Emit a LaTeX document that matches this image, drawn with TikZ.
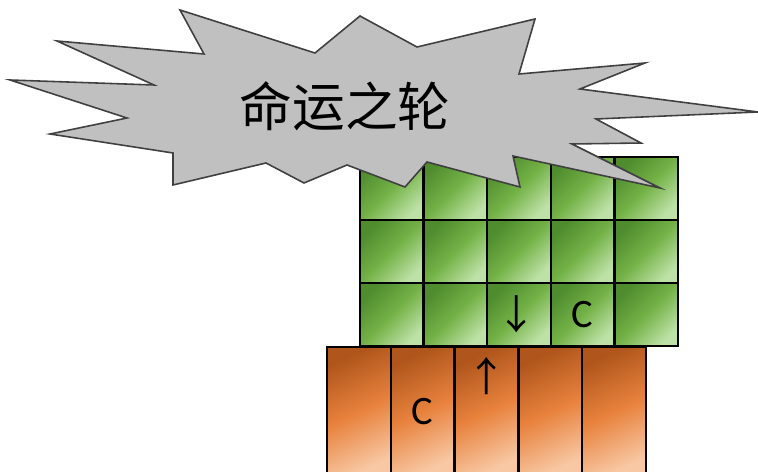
\documentclass[tikz,border=0pt]{standalone}
\usepackage{xcolor}
\usepackage{fontspec}
\setsansfont{Carlito}
\newfontfamily\cjkfont{Noto Sans CJK SC}
\newfontfamily\arrowfont{Noto Sans CJK SC}
\usepackage{tikz}
\usetikzlibrary{positioning,calc}
\definecolor{gDark}{HTML}{4F8C2E}
\definecolor{gMid}{HTML}{74B247}
\definecolor{gLight}{HTML}{BDE1A6}
\definecolor{oDark}{HTML}{B0561C}
\definecolor{oMid}{HTML}{E8823D}
\definecolor{oLight}{HTML}{F8C8A4}
\definecolor{burstGray}{HTML}{C0C0C0}
\definecolor{burstLine}{HTML}{404040}
\tikzstyle{tsCell} = [
    rectangle,
    draw=black,
    line width=1.3pt,
    inner sep=0pt
]
\tikzstyle{tsGreenCell} = [
    tsCell,
    minimum width=1.272cm,
    minimum height=1.26cm,
    top color=gDark,
    bottom color=gLight,
    middle color=gMid,
    shading angle=45
]
\tikzstyle{tsOrangeCell} = [
    tsCell,
    minimum width=1.276cm,
    minimum height=2.6cm,
    top color=oDark,
    bottom color=oLight,
    middle color=oMid,
    shading angle=25
]
\tikzstyle{tsLetter} = [
    text=black,
    inner sep=0pt,
    font=\sffamily\fontsize{23}{26}\selectfont
]
\tikzstyle{tsArrow} = [
    text=black,
    inner sep=0pt,
    font=\arrowfont\fontsize{23}{27}\selectfont
]
\tikzstyle{tsBurst} = [
    fill=burstGray,
    draw=burstLine,
    line width=0.9pt,
    line join=miter
]

\begin{document}
\begin{tikzpicture}[x=0.02cm, y=-0.02cm]

        \useasboundingbox (0,0) rectangle (758,472);

        % Green grid, 3 rows of 5
        \foreach \r in {1,2,3} {
            \foreach \c in {1,...,5} {
                \node[tsGreenCell] (g\r\c) at ({360+63.6*(\c-0.5)}, {157+63*(\r-0.5)}) {};
            }
        }

        % Orange columns below
        \foreach \c in {1,...,5} {
            \node[tsOrangeCell] (o\c) at ({327+63.8*(\c-0.5)}, 412) {};
        }

        % Marks in the cells
        \node[tsArrow] (down) at ([xshift=-0.04cm]g33) {↓};
        \node[tsLetter] (gC) at (g34) {C};
        \node[tsLetter] (oC) at (o2) {C};
        \node[tsArrow, below=0.22cm of o3.north] (up) {↑};

        % Burst with title
        \draw[tsBurst] (10,80) -- (154,85) -- (57,41) -- (204,54) -- (180,10)
            -- (315,53) -- (360,16) -- (417,47) -- (535,19) -- (519,74)
            -- (645,63) -- (580,89) -- (758,112) -- (596,119) -- (641,143)
            -- (572,144) -- (660,188) -- (513,156) -- (520,187) -- (427,162)
            -- (405,187) -- (347,165) -- (304,183) -- (266,163) -- (173,185)
            -- (173,153) -- (50,134) -- (127,118) -- cycle;
        \node[font=\cjkfont\fontsize{30}{34}\selectfont] (title) at (345,106) {命运之轮};

    \end{tikzpicture}
\end{document}
